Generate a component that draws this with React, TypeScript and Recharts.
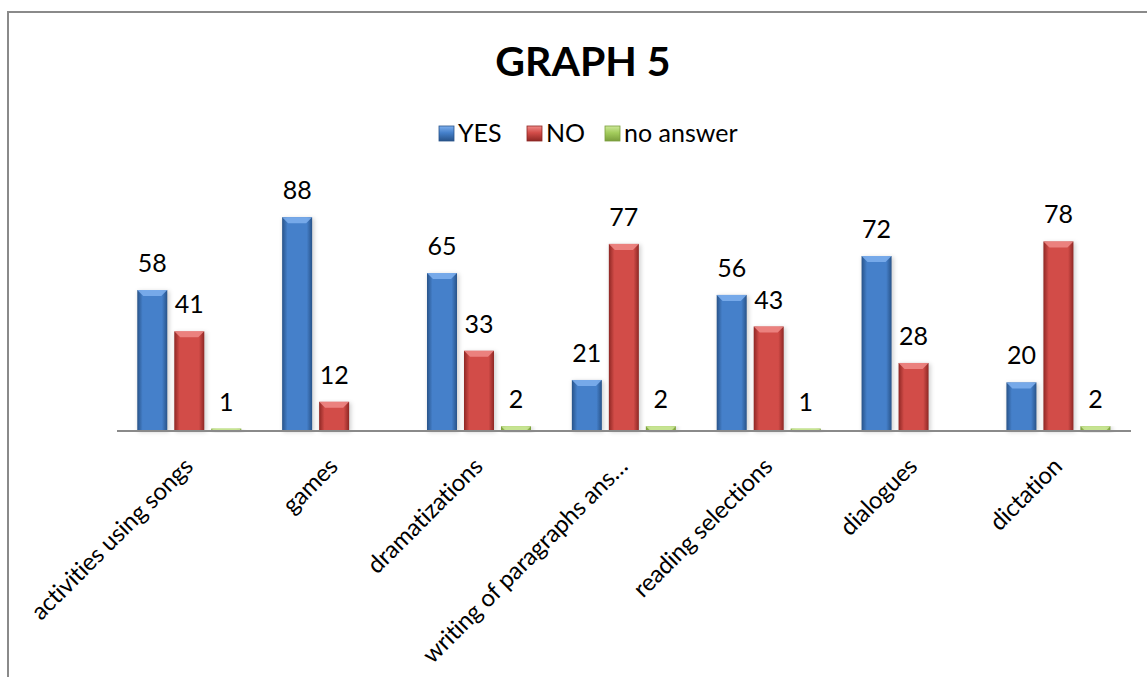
import React from 'react';
import { BarChart, Bar, XAxis, YAxis, LabelList } from 'recharts';

const categories = [
  'activities using songs',
  'games',
  'dramatizations',
  'writing of paragraphs ans\u2026',
  'reading selections',
  'dialogues',
  'dictation',
];
const yesValues = [58, 88, 65, 21, 56, 72, 20];
const noValues = [41, 12, 33, 77, 43, 28, 78];
const noAnswerValues: (number | null)[] = [1, null, 2, 2, 1, null, 2];

const seriesNames = ['YES', 'NO', 'no answer'];
const seriesKeys = ['yes', 'no', 'noAnswer'];

const data = categories.map((c, i) => ({
  name: c,
  yes: yesValues[i],
  no: noValues[i],
  noAnswer: noAnswerValues[i],
}));

const palette = [
  { id: 'gBlue', edge: '#285389', mid: '#4580ca', bevel: '#7fb0ee' },
  { id: 'gRed', edge: '#8e2724', mid: '#d24c48', bevel: '#f08b88' },
  { id: 'gGreen', edge: '#7a9e3c', mid: '#a3cc5c', bevel: '#cde89a' },
];

const FONT = 'Lato, "Open Sans", sans-serif';

const makeShape = (idx: number) => (props: any) => {
  const { x, y, width, height } = props;
  if (height == null || height <= 0 || width <= 0) return <g />;
  const p = palette[idx];
  const b = Math.min(6, height, width / 2);
  return (
    <g>
      <rect x={x + 1} y={y + 1} width={width + 1} height={height} fill="rgba(0,0,0,0.18)" filter="url(#barShadow)" />
      <rect x={x} y={y} width={width} height={height} fill={`url(#${p.id})`} />
      <polygon
        points={`${x},${y} ${x + width},${y} ${x + width - b},${y + b} ${x + b},${y + b}`}
        fill={p.bevel}
        opacity={0.85}
      />
    </g>
  );
};

const CategoryTick = (props: any) => {
  const { x, y, payload } = props;
  return (
    <g transform={`translate(${x + 5},${y + 37})`}>
      <text
        x={0}
        y={0}
        textAnchor="end"
        transform="rotate(-45)"
        fill="#000"
        fontSize={24}
        letterSpacing={-0.2}
        fontFamily={FONT}
      >
        {payload.value}
      </text>
    </g>
  );
};

const legendX = [439, 527, 605];

export default function App() {
  return (
    <div style={{ position: 'fixed', left: 0, top: 0, width: 1147, height: 677, overflow: 'hidden', background: '#fff' }}>
      <div
        style={{
          position: 'absolute',
          left: 7,
          top: 11,
          width: 1300,
          height: 800,
          border: '2px solid #8a8a8a',
          boxSizing: 'border-box',
        }}
      />
      <div style={{ position: 'absolute', left: 0, top: 0 }}>
        <BarChart
          width={1147}
          height={677}
          data={data}
          margin={{ top: 188, right: 16, bottom: 46, left: 117 }}
          barCategoryGap="14%"
          barGap={7}
        >
          <defs>
            {palette.map((p) => (
              <linearGradient key={p.id} id={p.id} x1="0" y1="0" x2="1" y2="0">
                <stop offset="0%" stopColor={p.edge} />
                <stop offset="18%" stopColor={p.mid} />
                <stop offset="50%" stopColor={p.mid} />
                <stop offset="82%" stopColor={p.mid} />
                <stop offset="100%" stopColor={p.edge} />
              </linearGradient>
            ))}
            <filter id="barShadow" x="-30%" y="-10%" width="160%" height="130%">
              <feGaussianBlur stdDeviation="2" />
            </filter>
          </defs>
          <XAxis
            dataKey="name"
            interval={0}
            height={200}
            tickSize={0}
            tickMargin={0}
            tickLine={false}
            axisLine={{ stroke: '#8a8a8a', strokeWidth: 2 }}
            tick={<CategoryTick />}
          />
          <YAxis hide domain={[0, 100]} />
          {seriesKeys.map((k, i) => (
            <Bar key={k} dataKey={k} name={seriesNames[i]} fill={palette[i].mid} shape={makeShape(i)} isAnimationActive={false}>
              <LabelList dataKey={k} position="top" offset={18} fill="#000" fontSize={25} fontFamily={FONT} />
            </Bar>
          ))}
        </BarChart>
      </div>
      <svg width={1147} height={677} style={{ position: 'absolute', left: 0, top: 0, pointerEvents: 'none' }}>
        <defs>
          {palette.map((p) => (
            <linearGradient key={p.id} id={`${p.id}L`} x1="0" y1="0" x2="0" y2="1">
              <stop offset="0%" stopColor={p.bevel} />
              <stop offset="45%" stopColor={p.mid} />
              <stop offset="100%" stopColor={p.edge} />
            </linearGradient>
          ))}
        </defs>
        <text x={583} y={76} textAnchor="middle" fontSize={41} fontWeight="bold" fontFamily={FONT} fill="#000">
          GRAPH 5
        </text>
        {seriesNames.map((n, i) => (
          <g key={n}>
            <rect x={legendX[i]} y={126} width={15} height={15} fill={`url(#${palette[i].id}L)`} stroke={palette[i].edge} strokeWidth={0.8} />
            <text x={legendX[i] + 19} y={142} fontSize={25} fontFamily={FONT} fill="#000">
              {n}
            </text>
          </g>
        ))}
      </svg>
    </div>
  );
}
